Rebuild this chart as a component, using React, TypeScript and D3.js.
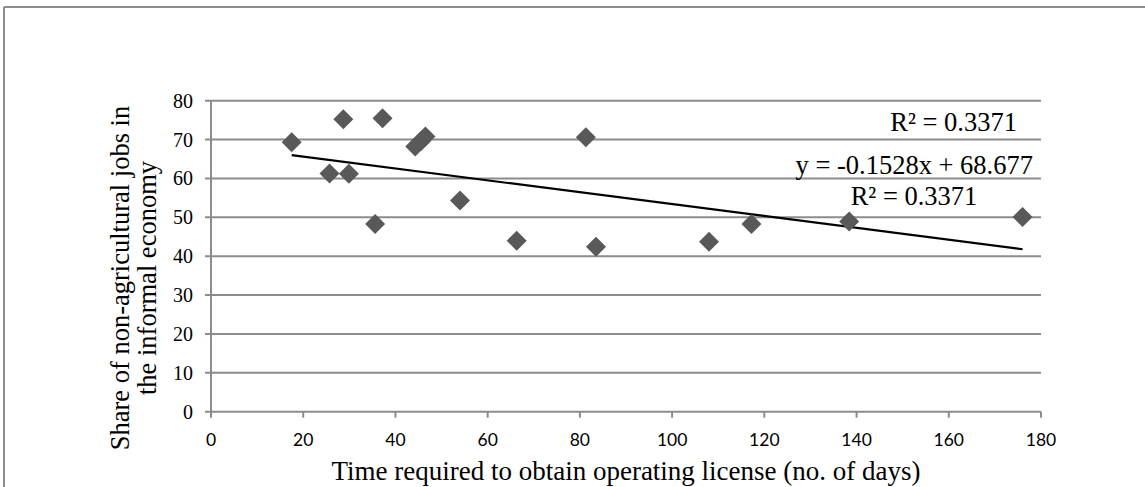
import React from "react";
import * as d3 from "d3";

const daysToLicense = [17.5, 25.7, 28.7, 29.9, 35.6, 37.2, 44.3, 45.5, 46.5, 54.0, 66.3, 81.3, 83.5, 108.0, 117.2, 138.4, 176.0];
const informalShare = [69.3, 61.3, 75.2, 61.2, 48.3, 75.5, 68.2, 69.6, 70.8, 54.3, 44.0, 70.6, 42.4, 43.7, 48.3, 48.9, 50.1];
const xTicks = [0, 20, 40, 60, 80, 100, 120, 140, 160, 180];
const yTicks = [0, 10, 20, 30, 40, 50, 60, 70, 80];
const trendSlope = -0.1528;
const trendIntercept = 68.677;
const rSquaredLabel = "R² = 0.3371";
const equationLabel = "y = -0.1528x + 68.677";
const xTitle = "Time required to obtain operating license (no. of days)";
const yTitleLines = ["Share of non-agricultural jobs in", "the informal economy"];

const W = 1145;
const H = 487;
const plot = { left: 211, right: 1041, top: 100.7, bottom: 411.7 };
const GRID = "#8c8c8c";
const SERIF = "'Liberation Serif', 'Times New Roman', serif";
const SANS = "Lato, 'Liberation Sans', sans-serif";

export default function App() {
  const x = d3.scaleLinear().domain([0, 180]).range([plot.left, plot.right]);
  const y = d3.scaleLinear().domain([0, 80]).range([plot.bottom, plot.top]);
  const diamond = d3.symbol().type(d3.symbolSquare).size(200)();
  const xMin = d3.min(daysToLicense) as number;
  const xMax = d3.max(daysToLicense) as number;
  const trend = d3.line<number>().x((d) => x(d)).y((d) => y(trendSlope * d + trendIntercept))([xMin, xMax]);

  return (
    <div style={{ position: "absolute", left: 0, top: 0 }}>
      <svg width={W} height={H} style={{ display: "block", background: "#fff" }}>
        <line x1={4} y1={7} x2={W} y2={7} stroke={GRID} strokeWidth={2} />
        <line x1={4} y1={7} x2={4} y2={H} stroke={GRID} strokeWidth={2} />
        {yTicks.map((t) => (
          <g key={"y" + t}>
            <line x1={plot.left - 6} x2={plot.right} y1={y(t)} y2={y(t)} stroke={GRID} strokeWidth={2} />
            <text x={plot.left - 18} y={y(t)} dy="0.35em" textAnchor="end" fontFamily={SERIF} fontSize={20} fill="#000">
              {t}
            </text>
          </g>
        ))}
        <line x1={plot.left} x2={plot.left} y1={plot.top} y2={plot.bottom} stroke={GRID} strokeWidth={2} />
        {xTicks.map((t) => (
          <g key={"x" + t}>
            <line x1={x(t)} x2={x(t)} y1={plot.bottom} y2={plot.bottom + 6} stroke={GRID} strokeWidth={2} />
            <text x={x(t)} y={446} textAnchor="middle" fontFamily={SANS} fontSize={17.5} fill="#000">
              {t}
            </text>
          </g>
        ))}
        <path d={trend || ""} stroke="#000" strokeWidth={2.2} fill="none" />
        {daysToLicense.map((d, i) => (
          <path
            key={i}
            d={diamond || ""}
            transform={`translate(${x(d)},${y(informalShare[i])}) rotate(45)`}
            fill="#595959"
          />
        ))}
        <text x={1017} y={131} textAnchor="end" fontFamily={SERIF} fontSize={26.5} fill="#000">
          {rSquaredLabel}
        </text>
        <text x={1033} y={174} textAnchor="end" fontFamily={SERIF} fontSize={26.5} fill="#000">
          {equationLabel}
        </text>
        <text x={914} y={205} textAnchor="middle" fontFamily={SERIF} fontSize={26.5} fill="#000">
          {rSquaredLabel}
        </text>
        <text x={626} y={480} textAnchor="middle" fontFamily={SERIF} fontSize={27} fill="#000">
          {xTitle}
        </text>
        <text transform="translate(0,278) rotate(-90)" textAnchor="middle" fontFamily={SERIF} fontSize={26.5} fill="#000">
          <tspan x={0} y={129}>{yTitleLines[0]}</tspan>
          <tspan x={0} y={156}>{yTitleLines[1]}</tspan>
        </text>
      </svg>
    </div>
  );
}
